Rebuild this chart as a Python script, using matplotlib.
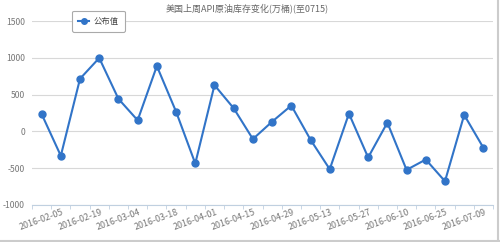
import matplotlib.pyplot as plt
from matplotlib.lines import Line2D

plt.rcParams['font.family'] = ['Noto Sans CJK SC', 'DejaVu Sans']

# 数据
dates = ['2016-02-05', '2016-02-12', '2016-02-19', '2016-02-26', '2016-03-04', '2016-03-11',
         '2016-03-18', '2016-03-25', '2016-04-01', '2016-04-08', '2016-04-15', '2016-04-22',
         '2016-04-29', '2016-05-06', '2016-05-13', '2016-05-20', '2016-05-27', '2016-06-03',
         '2016-06-10', '2016-06-17', '2016-06-25', '2016-07-01', '2016-07-09', '2016-07-15']
values = [237, -333, 717, 1000, 443, 151, 890, 269, -438, 630, 315, -105,
          132, 352, -114, -516, 242, -356, 119, -525, -384, -680, 224, -224]
yticks = [-1000, -500, 0, 500, 1000, 1500]

fig = plt.figure(figsize=(5, 2.42), dpi=100)
ax = fig.add_axes([0.064, 0.154, 0.922, 0.758])

x = range(len(values))
ax.plot(x, values, color='#3174c8', lw=1.5, marker='o', ms=5, label=u'公布值', zorder=3)

ax.set_xlim(-0.5, len(values) - 0.5)
ax.set_ylim(-1000, 1500)
ax.set_yticks(yticks)
ax.set_yticklabels([str(v) for v in yticks], fontsize=6.2, color='#777777')
ax.set_xticks(range(0, len(values), 2))
ax.set_xticklabels(dates[::2], fontsize=6.4, color='#777777', rotation=20, ha='center')
ax.set_xticks([i - 0.5 for i in range(len(values) + 1)], minor=True)
ax.tick_params(axis='y', length=0, pad=5)
ax.tick_params(axis='x', which='major', length=0, pad=2)
ax.tick_params(axis='x', which='minor', length=3, color='#c0d0e0')

ax.grid(axis='y', color='#d8d8d8', lw=0.8)
ax.set_axisbelow(True)
for s in ['top', 'right', 'left']:
    ax.spines[s].set_visible(False)
ax.spines['bottom'].set_color('#c0d0e0')

fig.text(0.495, 0.965, u'美国上周API原油库存变化(万桶)(至0715)', ha='center', va='center',
         fontsize=6.5, color='#666666')

leg = ax.legend(loc='center left', bbox_to_anchor=(0.078, 1.0), fontsize=6, frameon=True,
                fancybox=True, edgecolor='#aaaaaa', handlelength=1.3, borderpad=0.75,
                handletextpad=0.5, markerscale=0.8, labelcolor='#444444', framealpha=1)
leg.get_frame().set_linewidth(0.8)

# 右侧和底部的灰色边框
fig.lines.append(Line2D([0.996, 0.996], [0.0, 1.0], transform=fig.transFigure, color='#cccccc', lw=1.5))
fig.lines.append(Line2D([0.0, 1.0], [0.006, 0.006], transform=fig.transFigure, color='#cccccc', lw=1.5))

plt.savefig('out.png', dpi=100)
